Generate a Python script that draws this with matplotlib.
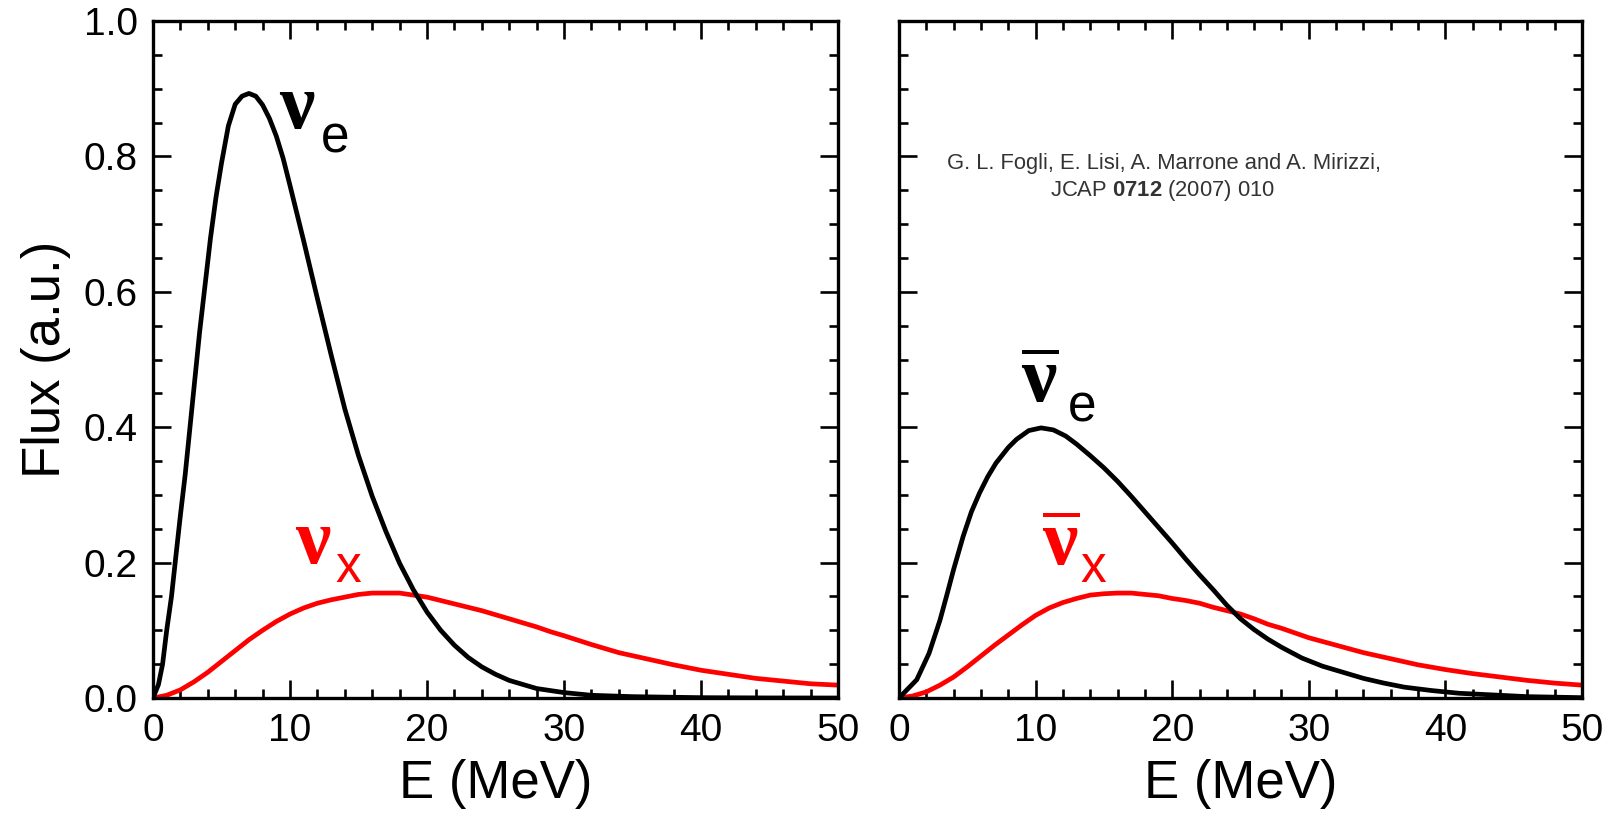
import matplotlib
matplotlib.use("Agg")
import matplotlib.pyplot as plt
from matplotlib.ticker import MultipleLocator, FormatStrFormatter

plt.rcParams['font.family'] = ['Liberation Sans', 'DejaVu Sans']
plt.rcParams['mathtext.fontset'] = 'custom'
plt.rcParams['mathtext.rm'] = 'Liberation Serif'
plt.rcParams['mathtext.it'] = 'Liberation Serif:italic'
plt.rcParams['mathtext.sf'] = 'Liberation Serif:bold'
plt.rcParams['mathtext.bf'] = 'Liberation Sans:bold'

# ---------------- data ----------------
E_nue = [0, 0.4, 0.7, 1.0, 1.35, 1.7, 2.0, 2.35, 2.7, 3.0, 3.4, 3.8, 4.2, 4.6, 5.0, 5.5,
         6.0, 6.5, 7.0, 7.5, 8.0, 8.5, 9.0, 9.5, 10.0, 11.0, 12.0, 13.0, 14.0, 15.0,
         16.0, 17.0, 18.0, 19.0, 20.0, 21.0, 22.0, 23.0, 24.0, 25.0, 26.0, 28.0, 30.0,
         32.0, 35.0, 40.0, 45.0, 50.0]
F_nue = [0, 0.02, 0.05, 0.10, 0.15, 0.215, 0.27, 0.33, 0.40, 0.46, 0.54, 0.61, 0.68,
         0.74, 0.79, 0.845, 0.877, 0.889, 0.893, 0.889, 0.876, 0.856, 0.83, 0.797, 0.757,
         0.675, 0.59, 0.507, 0.427, 0.358, 0.298, 0.246, 0.199, 0.160, 0.127, 0.100,
         0.078, 0.060, 0.046, 0.035, 0.026, 0.014, 0.008, 0.004, 0.002, 0.0005, 0.0001,
         0.0]

E_nux = [0, 1, 2, 3, 4, 5, 6, 7, 8, 9, 10, 11, 12, 13, 14, 15, 16, 17, 18, 19, 20, 21,
         22, 23, 24, 25, 26, 27, 28, 29, 30, 32, 34, 36, 38, 40, 42, 44, 46, 48, 50]
F_nux = [0, 0.004, 0.012, 0.024, 0.038, 0.054, 0.070, 0.086, 0.100, 0.113, 0.124, 0.133,
         0.140, 0.145, 0.149, 0.153, 0.155, 0.155, 0.155, 0.152, 0.149, 0.144, 0.139,
         0.134, 0.129, 0.123, 0.117, 0.111, 0.105, 0.098, 0.092, 0.079, 0.067, 0.058,
         0.049, 0.041, 0.035, 0.029, 0.025, 0.021, 0.019]

E_anue = [0, 1.3, 2.2, 3.0, 3.5, 4.0, 4.7, 5.3, 5.9, 6.5, 7.1, 8.0, 8.6, 9.5, 10.4, 11.3,
          12.2, 13.0, 14.0, 15.0, 16.0, 17.0, 18.0, 19.0, 20.0, 21.0, 22.0, 23.0, 24.0,
          25.0, 26.0, 27.0, 28.0, 29.5, 31.0, 32.5, 34.0, 35.5, 37.0, 39.0, 41.0, 43.0,
          46.0, 50.0]
F_anue = [0, 0.027, 0.066, 0.115, 0.152, 0.19, 0.239, 0.275, 0.303, 0.327, 0.347, 0.37,
          0.382, 0.395, 0.399, 0.396, 0.387, 0.375, 0.358, 0.34, 0.32, 0.298, 0.275,
          0.252, 0.229, 0.205, 0.182, 0.16, 0.137, 0.117, 0.101, 0.087, 0.075, 0.059,
          0.047, 0.038, 0.029, 0.022, 0.016, 0.011, 0.007, 0.005, 0.002, 0.0005]

E_anux = [0, 1, 2, 3, 4, 5, 6, 7, 8, 9, 10, 11, 12, 13, 14, 15, 16, 17, 18, 19, 20, 21,
          22, 23, 24, 25, 26, 27, 28, 29, 30, 32, 34, 36, 38, 40, 42, 44, 46, 48, 50]
F_anux = [0, 0.003, 0.009, 0.019, 0.031, 0.046, 0.062, 0.078, 0.093, 0.108, 0.122, 0.133,
          0.141, 0.147, 0.152, 0.154, 0.155, 0.155, 0.153, 0.151, 0.147, 0.144, 0.14,
          0.134, 0.129, 0.124, 0.117, 0.109, 0.103, 0.096, 0.089, 0.078, 0.067, 0.058,
          0.049, 0.042, 0.036, 0.031, 0.026, 0.022, 0.019]

x_label = "E (MeV)"
y_label = "Flux (a.u.)"
cite_line1 = "G. L. Fogli, E. Lisi, A. Marrone and A. Mirizzi,"
cite_line2 = r"JCAP $\mathbf{0712}$ (2007) 010"

# ---------------- figure ----------------
W, H = 1610, 825
fig = plt.figure(figsize=(W / 100, H / 100), dpi=100)
axL = fig.add_axes([153 / W, 1 - 698 / H, 685 / W, 677 / H])
axR = fig.add_axes([899 / W, 1 - 698 / H, 683 / W, 677 / H])

LW = 3.4
RED = '#ff0000'
axL.plot(E_nue, F_nue, color='black', lw=LW, solid_joinstyle='round', zorder=3)
axL.plot(E_nux, F_nux, color=RED, lw=LW, solid_joinstyle='round', zorder=2)
axR.plot(E_anue, F_anue, color='black', lw=LW, solid_joinstyle='round', zorder=3)
axR.plot(E_anux, F_anux, color=RED, lw=LW, solid_joinstyle='round', zorder=2)

for ax in (axL, axR):
    ax.set_xlim(0, 50)
    ax.set_ylim(0, 1.0)
    ax.xaxis.set_major_locator(MultipleLocator(10))
    ax.xaxis.set_minor_locator(MultipleLocator(2))
    ax.yaxis.set_major_locator(MultipleLocator(0.2))
    ax.yaxis.set_minor_locator(MultipleLocator(0.05))
    ax.yaxis.set_major_formatter(FormatStrFormatter('%.1f'))
    ax.tick_params(which='both', direction='in', top=True, right=True,
                   labelsize=28, pad=11, width=1.9)
    ax.tick_params(which='major', length=13)
    ax.tick_params(which='minor', length=6.7)
    for s in ax.spines.values():
        s.set_linewidth(2.4)
    ax.set_xlabel(x_label, fontsize=38, labelpad=7)

axL.set_ylabel(y_label, fontsize=38, labelpad=9)
axR.tick_params(labelleft=False)

NU = 57
SUB = 37
# left panel labels
axL.text(10.55, 0.842, r"$\mathsf{\nu}$", fontsize=NU, ha='center', va='baseline')
axL.text(12.25, 0.806, "e", fontsize=SUB, ha='left', va='baseline')
axL.text(11.7, 0.199, r"$\mathsf{\nu}$", fontsize=NU, ha='center', va='baseline', color=RED)
axL.text(13.35, 0.172, "x", fontsize=SUB, ha='left', va='baseline', color=RED)
# right panel labels
axR.text(10.3, 0.436, r"$\overline{\mathsf{\nu}}$", fontsize=NU, ha='center', va='baseline')
axR.text(12.35, 0.409, "e", fontsize=SUB, ha='left', va='baseline')
axR.text(11.86, 0.196, r"$\overline{\mathsf{\nu}}$", fontsize=NU, ha='center', va='baseline', color=RED)
axR.text(13.3, 0.171, "x", fontsize=SUB, ha='left', va='baseline', color=RED)

axR.text(0.388, 0.790, cite_line1, transform=axR.transAxes, fontsize=15.8,
         ha='center', va='center', color='#333333')
axR.text(0.386, 0.749, cite_line2, transform=axR.transAxes, fontsize=15.8,
         ha='center', va='center', color='#333333')

fig.savefig("out.png", dpi=100)
